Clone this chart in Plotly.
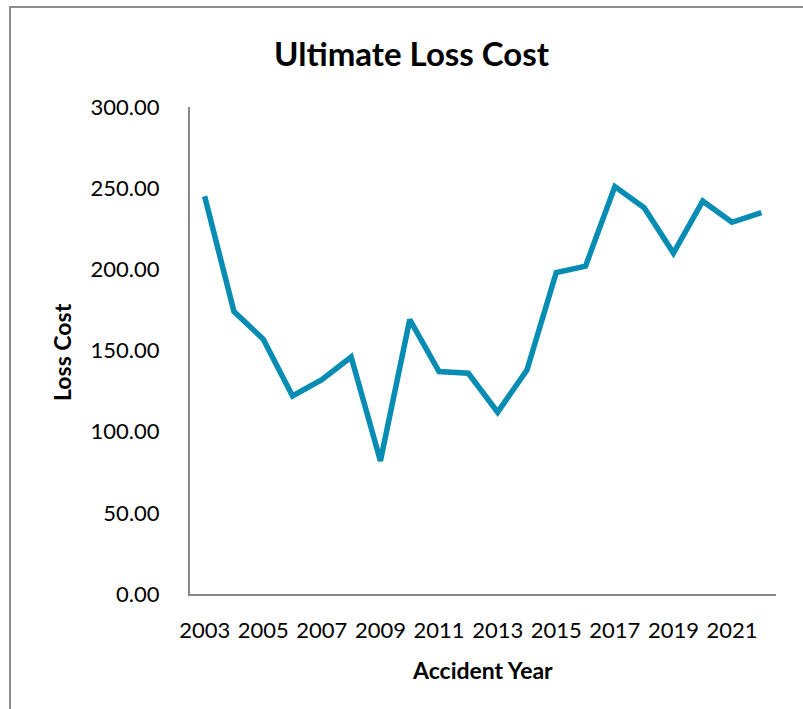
import plotly.graph_objects as go

# Ultimate loss cost by accident year
years = list(range(2003, 2023))
loss_cost = [245, 174, 157, 122, 132, 146, 82, 169, 137, 136,
             112, 138, 198, 202, 251, 238, 210, 242, 229, 235]
y_ticks = [0, 50, 100, 150, 200, 250, 300]
x_ticks = list(range(2003, 2023, 2))

W, H = 803, 709
L, R, T, B = 190, 27, 107, 115
FONT = "Lato"

fig = go.Figure()
fig.add_trace(go.Scatter(
    x=years, y=loss_cost, mode="lines",
    line=dict(color="#078CB4", width=5.5, shape="linear"),
    hoverinfo="x+y", showlegend=False,
))

pw = W - L - R
ph = H - T - B

def px_x(p):
    return (p - L) / pw

def px_y(p):
    return (H - B - p) / ph

fig.update_layout(
    width=W, height=H,
    margin=dict(l=L, r=R, t=T, b=B),
    paper_bgcolor="white", plot_bgcolor="white",
    font=dict(family=FONT, color="#000000", size=22),
    xaxis=dict(
        range=[2002.5, 2022.5], tickvals=x_ticks,
        ticktext=[str(v) for v in x_ticks],
        showgrid=False, zeroline=False, showline=True,
        linecolor="#888888", linewidth=2, ticks="",
        ticklabelstandoff=16, tickfont=dict(size=22),
    ),
    yaxis=dict(
        range=[0, 300], tickvals=y_ticks,
        ticktext=[f"{v:.2f}" for v in y_ticks],
        showgrid=False, zeroline=False, showline=True,
        linecolor="#888888", linewidth=2, ticks="",
        ticklabelstandoff=24, tickfont=dict(size=22),
    ),
    annotations=[
        dict(text="<b>Ultimate Loss Cost</b>", xref="paper", yref="paper",
             x=px_x(412), y=px_y(53), xanchor="center", yanchor="middle",
             showarrow=False, font=dict(size=33, family=FONT)),
        dict(text="<b>Accident Year</b>", xref="paper", yref="paper",
             x=px_x(482), y=px_y(670), xanchor="center", yanchor="middle",
             showarrow=False, font=dict(size=23, family=FONT)),
        dict(text="<b>Loss Cost</b>", xref="paper", yref="paper",
             x=px_x(62), y=px_y(352), xanchor="center", yanchor="middle",
             textangle=-90, showarrow=False, font=dict(size=23, family=FONT)),
    ],
    shapes=[
        dict(type="rect", xref="paper", yref="paper",
             x0=px_x(10), y0=px_y(730), x1=px_x(830), y1=px_y(7),
             line=dict(color="#8C8C8C", width=2), fillcolor="rgba(0,0,0,0)",
             layer="below"),
    ],
)

fig.write_html("out.html")
